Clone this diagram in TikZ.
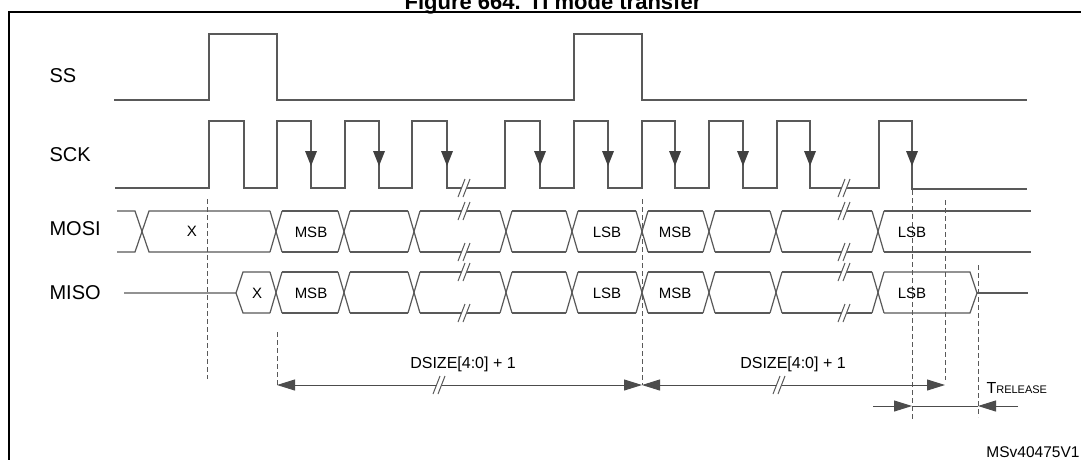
\documentclass[tikz,border=0pt]{standalone}
\usepackage{fontspec}
\setmainfont{Liberation Sans}
\usetikzlibrary{arrows.meta}
\begin{document}
\begin{tikzpicture}[x=1pt,y=-1pt,
  wave/.style={draw=black!65,line width=1.2pt},
  vdash/.style={draw=black!65,line width=0.9pt,dash pattern=on 5pt off 3pt},
  sig/.style={font=\fontsize{20}{20}\selectfont,anchor=west},
  cell/.style={font=\fontsize{15}{15}\selectfont},
  dim/.style={draw=black!70,line width=1pt,{Triangle[length=18pt,width=11pt]}-{Triangle[length=18pt,width=11pt]}},
  dimr/.style={draw=black!70,line width=1pt,-{Triangle[length=18pt,width=11pt]}}]
\useasboundingbox (0,0) rectangle (1081,459);
\fill[white] (0,0) rectangle (1081,459);
\node[font=\bfseries\fontsize{22}{22}\selectfont,anchor=base] (title) at (553,9) {Figure 664. TI mode transfer};
\draw[black,line width=1.6pt] (9,480) -- (9,12) -- (1100,12);
% labels
\node[sig] (ss) at (46,76) {SS};
\node[sig] (sck) at (46,155) {SCK};
\node[sig] (mosi) at (46,229) {MOSI};
\node[sig] (miso) at (46,293) {MISO};
% SS
\draw[wave] (114,100) -- (209,100) -- (209,34) -- (277,34) -- (277,100) -- (574,100) -- (574,34) -- (642,34) -- (642,100) -- (1027,100);
% SCK
\draw[wave] (115,188) -- (209,188)
  -- (209,121) -- (244,121) -- (244,188) -- (277,188)
  -- (277,121) -- (311,121) -- (311,188) -- (345,188)
  -- (345,121) -- (379,121) -- (379,188) -- (412,188)
  -- (412,121) -- (447,121) -- (447,188) -- (505,188)
  -- (505,121) -- (540,121) -- (540,188) -- (574,188)
  -- (574,121) -- (608,121) -- (608,188) -- (642,188)
  -- (642,121) -- (675,121) -- (675,188) -- (709,188)
  -- (709,121) -- (743,121) -- (743,188) -- (777,188)
  -- (777,121) -- (810,121) -- (810,188) -- (879,188)
  -- (879,121) -- (912,121) -- (912,189) -- (1027,189);
\foreach \x in {311,379,447,540,608,675,743,810,912}
  \fill[black!75] (\x-6,151) -- (\x+6,151) -- (\x,166) -- cycle;
% buses
\newcommand{\busrow}[3]{% top, bottom, list of crossings
  \foreach \c in {#3} {
    \draw[wave] (\c-6,#1) -- (\c+6,#2);
    \draw[wave] (\c-6,#2) -- (\c+6,#1);
  }}
% MOSI
\draw[wave] (117,211) -- (135,211) -- (149,252) -- (270,252);
\draw[wave] (117,252) -- (135,252) -- (149,211) -- (270,211);
\busrow{211}{252}{276,344,414,506,572,642,709,776,878}
\foreach \a/\b in {282/338,350/408,420/500,512/566,578/636,648/703,715/770,782/872} {
  \draw[wave] (\a,211) -- (\b,211); \draw[wave] (\a,252) -- (\b,252);}
\draw[wave] (884,211) -- (1031,211); \draw[wave] (884,252) -- (1031,252);
% MISO
\draw[wave] (124,293) -- (236,293) -- (243,272) -- (270,272);
\draw[wave] (236,293) -- (243,313) -- (270,313);
\busrow{272}{313}{276,344,414,506,572,642,709,776,878}
\foreach \a/\b in {282/338,350/408,420/500,512/566,578/636,648/703,715/770,782/872} {
  \draw[wave] (\a,272) -- (\b,272); \draw[wave] (\a,313) -- (\b,313);}
\draw[wave] (884,272) -- (970,272) -- (977,293) -- (970,313) -- (884,313);
\draw[wave] (977,293) -- (1028,293);
% breaks
\newcommand{\brk}[2]{%
  \fill[white] (#1-6,#2+8) -- (#1,#2-8) -- (#1+5,#2-8) -- (#1-1,#2+8) -- cycle;
  \draw[black!65,line width=1pt] (#1-7,#2+9) -- (#1,#2-9) (#1-2,#2+9) -- (#1+5,#2-9);}
\foreach \x in {465,845} \foreach \y in {188,211,252,272,313} \brk{\x}{\y};
% cell labels
\node[cell] (x1) at (192,231) {X};
\node[cell] (mo1) at (311,232) {MSB};
\node[cell] (lo1) at (607,232) {LSB};
\node[cell] (mo2) at (675,232) {MSB};
\node[cell] (x2) at (257,293) {X};
\node[cell] (mi1) at (311,293) {MSB};
\node[cell] (li1) at (607,293) {LSB};
\node[cell] (mi2) at (675,293) {MSB};
% dashed lines
\draw[vdash] (207,199) -- (207,379);
\draw[vdash] (642,199) -- (642,385);
\draw[vdash] (277,332) -- (277,385);
\draw[vdash] (912,190) -- (912,420);
\draw[vdash] (945,200) -- (945,380);
\draw[vdash] (978,265) -- (978,417);
\node[cell] (lo2) at (912,232) {LSB};
\node[cell] (li2) at (912,293) {LSB};
% dimensions
\coordinate (d0) at (277,385);
\coordinate (d1) at (642,385);
\coordinate (d2) at (945,385);
\draw[dim] (d0) -- (d1);
\draw[dim] (d1) -- (d2);
\brk{440}{385}\brk{780}{385}
\node[cell,font=\fontsize{16}{16}\selectfont] (ds1) at (463,364) {DSIZE[4:0] + 1};
\node[cell,font=\fontsize{16}{16}\selectfont] (ds2) at (793,364) {DSIZE[4:0] + 1};
\coordinate (t0) at (873,406);
\coordinate (t1) at (912,406);
\coordinate (t2) at (1018,406);
\coordinate (t3) at (978,406);
\draw[dimr] (t0) -- (t1);
\draw[dimr] (t2) -- (t3);
\draw[draw=black!70,line width=1pt] (t1) -- (t3);
\node[anchor=west,font=\fontsize{16}{16}\selectfont] (trel) at (983,388) {T{\fontsize{11}{11}\selectfont RELEASE}};
\node[anchor=east,font=\fontsize{15.5}{15.5}\selectfont] (ms) at (1083,452) {MSv40475V1};
\end{tikzpicture}
\end{document}
